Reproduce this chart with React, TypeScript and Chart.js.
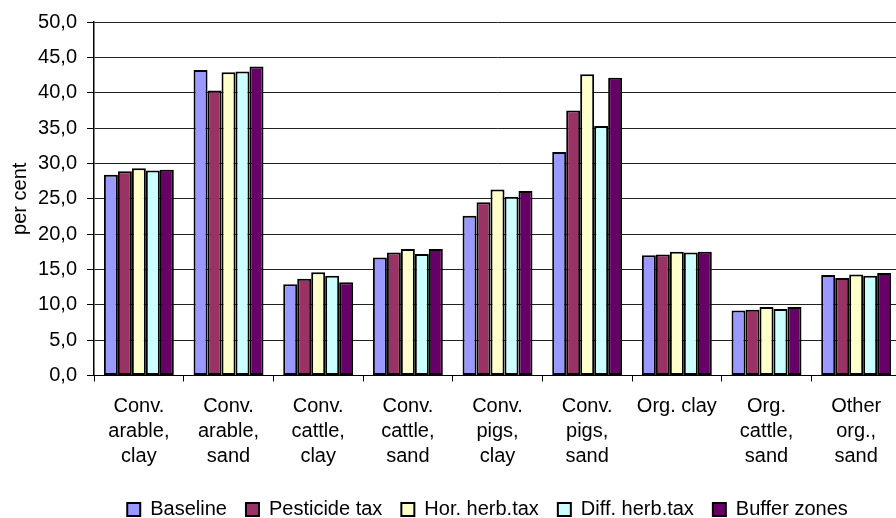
import React, { useEffect, useRef } from "react";
import { Chart, registerables } from "chart.js";

Chart.register(...registerables);

const categories: (string | string[])[] = [
  ["Conv.", "arable,", "clay"],
  ["Conv.", "arable,", "sand"],
  ["Conv.", "cattle,", "clay"],
  ["Conv.", "cattle,", "sand"],
  ["Conv.", "pigs,", "clay"],
  ["Conv.", "pigs,", "sand"],
  "Org. clay",
  ["Org.", "cattle,", "sand"],
  ["Other", "org.,", "sand"],
];

const baseline = [28.4, 43.2, 12.9, 16.7, 22.6, 31.6, 17.0, 9.2, 14.2];
const pesticideTax = [28.9, 40.3, 13.7, 17.4, 24.5, 37.5, 17.1, 9.3, 13.8];
const horHerbTax = [29.3, 42.9, 14.6, 17.9, 26.3, 42.6, 17.5, 9.7, 14.3];
const diffHerbTax = [29.0, 43.0, 14.1, 17.2, 25.3, 35.3, 17.4, 9.4, 14.1];
const bufferZones = [29.1, 43.7, 13.2, 17.9, 26.1, 42.1, 17.5, 9.7, 14.5];

const seriesNames = ["Baseline", "Pesticide tax", "Hor. herb.tax", "Diff. herb.tax", "Buffer zones"];
const seriesColors = ["#9999FF", "#993366", "#FFFFCC", "#CCFFFF", "#660066"];

const yMin = 0;
const yMax = 50;
const yStep = 5;
const yTitle = "per cent";

const FONT = "'Liberation Sans', Arial, Helvetica, sans-serif";

const legendShift = {
  id: "legendShift",
  afterLayout(chart: any) {
    const l = chart.legend;
    if (l) {
      l.left -= 10;
      l.right -= 10;
    }
  },
};

export default function App() {
  const ref = useRef<HTMLCanvasElement | null>(null);

  useEffect(() => {
    if (!ref.current) return;
    const values = [baseline, pesticideTax, horHerbTax, diffHerbTax, bufferZones];
    const chart = new Chart(ref.current, {
      type: "bar",
      data: {
        labels: categories,
        datasets: values.map((v, i) => ({
          label: seriesNames[i],
          data: v,
          backgroundColor: seriesColors[i],
          borderColor: "#000000",
          borderWidth: 2,
          borderSkipped: false,
          categoryPercentage: 0.78,
          barPercentage: 1.0,
        })),
      },
      plugins: [legendShift],
      options: {
        responsive: false,
        animation: false,
        layout: { padding: { top: 16, right: 0, left: 0, bottom: -11.5 } },
        plugins: {
          tooltip: { enabled: false },
          legend: {
            position: "bottom",
            fullSize: false,
            labels: {
              boxWidth: 13,
              boxHeight: 13,
              padding: 19,
              color: "#000",
              font: { family: FONT, size: 20 },
            },
          },
        },
        scales: {
          x: {
            grid: {
              offset: true,
              drawOnChartArea: false,
              drawTicks: true,
              tickLength: 6,
              color: "#000",
            },
            border: { color: "#000", width: 1 },
            ticks: {
              color: "#000",
              maxRotation: 0,
              autoSkip: false,
              padding: 12,
              font: { family: FONT, size: 20, lineHeight: 1.25 },
            },
          },
          y: {
            min: yMin,
            max: yMax,
            grid: {
              color: "#222",
              lineWidth: 1,
              tickLength: 7,
              tickColor: "#000",
            },
            border: { color: "#000", width: 1.5 },
            ticks: {
              stepSize: yStep,
              color: "#000",
              padding: 10,
              font: { family: FONT, size: 20 },
              callback: (v: any) => Number(v).toFixed(1).replace(".", ","),
            },
            title: {
              display: true,
              text: yTitle,
              color: "#000",
              font: { family: FONT, size: 20 },
              padding: { top: 8.5, bottom: -4.4 },
            },
          },
        },
      },
    });
    return () => chart.destroy();
  }, []);

  return (
    <div style={{ position: "absolute", left: 0, top: 0, width: 896, height: 518, overflow: "hidden", background: "#fff" }}>
      <canvas ref={ref} width={901} height={518} style={{ display: "block" }} />
    </div>
  );
}
